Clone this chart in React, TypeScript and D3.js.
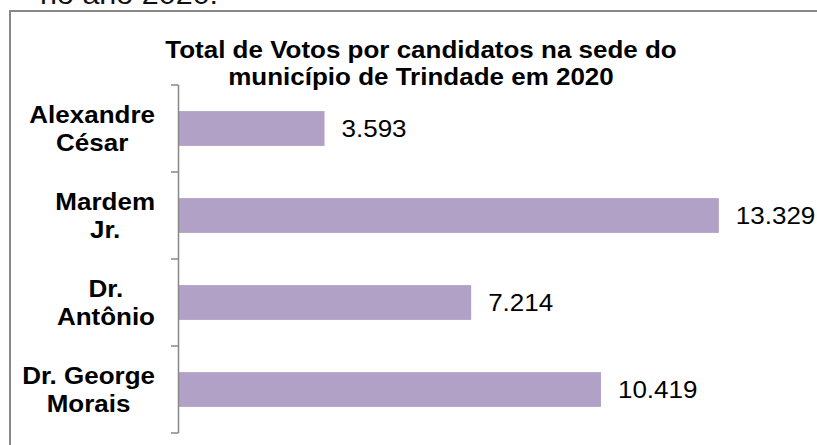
import React, { useEffect, useRef } from "react";
import * as d3 from "d3";

// dados
const candidatos = [
  ["Alexandre", "César"],
  ["Mardem", "Jr."],
  ["Dr.", "Antônio"],
  ["Dr. George", "Morais"],
];
const votos = [3593, 13329, 7214, 10419];
const tituloLinhas = [
  "Total de Votos por candidatos na sede do",
  "município de Trindade em 2020",
];
const textoAcima = "no ano 2020.";

const W = 817;
const H = 445;
const SX = 1.13; // a imagem original está esticada na horizontal
const FONT = "Arial, 'Liberation Sans', sans-serif";

const App = () => {
  const svgRef = useRef<SVGSVGElement>(null);

  useEffect(() => {
    const svg = d3.select(svgRef.current);
    svg.selectAll("*").remove();

    const nomes = candidatos.map((c) => c.join(" "));

    const x = d3.scaleLinear().domain([0, 16000]).range([179, 827]);
    const y = d3
      .scaleBand()
      .domain(nomes)
      .range([85, 433])
      .paddingInner(0.6)
      .paddingOuter(0.3);

    const fmt = d3
      .formatLocale({ decimal: ",", thousands: ".", grouping: [3], currency: ["R$", ""] })
      .format(",d");

    const stretched = (g, px, py) =>
      g.attr("transform", `translate(${px},${py}) scale(${SX},1)`);

    // texto cortado acima do gráfico
    stretched(svg.append("text"), 40, 4)
      .attr("font-family", FONT)
      .attr("font-size", 27)
      .attr("fill", "#111")
      .text(textoAcima);

    // moldura
    svg
      .append("rect")
      .attr("x", 10)
      .attr("y", 11)
      .attr("width", W + 20)
      .attr("height", H + 20)
      .attr("fill", "none")
      .attr("stroke", "#888")
      .attr("stroke-width", 2);

    // título
    tituloLinhas.forEach((t, i) => {
      stretched(svg.append("text"), 421, 58 + i * 27)
        .attr("font-family", FONT)
        .attr("font-size", 23)
        .attr("font-weight", "bold")
        .attr("text-anchor", "middle")
        .attr("fill", "#000")
        .text(t);
    });

    // barras
    svg
      .selectAll(".bar")
      .data(votos)
      .join("rect")
      .attr("class", "bar")
      .attr("x", x(0))
      .attr("y", (d, i) => y(nomes[i]))
      .attr("width", (d) => x(d) - x(0))
      .attr("height", y.bandwidth())
      .attr("fill", "#b2a1c7");

    // eixo vertical com marcas entre categorias
    const axis = svg.append("g").attr("stroke", "#888").attr("stroke-width", 1.5);
    axis
      .append("line")
      .attr("x1", 178.5)
      .attr("x2", 178.5)
      .attr("y1", y.range()[0])
      .attr("y2", y.range()[1]);
    const bordas = d3.range(nomes.length + 1).map((i) => y.range()[0] + i * y.step());
    axis
      .selectAll(".tick")
      .data(bordas)
      .join("line")
      .attr("x1", 171)
      .attr("x2", 178.5)
      .attr("y1", (d) => d)
      .attr("y2", (d) => d);

    // rótulos das categorias
    candidatos.forEach((linhas, i) => {
      const cy = y(nomes[i]) + y.bandwidth() / 2;
      const texts = linhas.map((l, j) =>
        svg
          .append("text")
          .attr("font-family", FONT)
          .attr("font-size", 23)
          .attr("font-weight", "bold")
          .attr("text-anchor", "middle")
          .attr("fill", "#000")
          .text(l)
      );
      const larg = d3.max(texts, (t) => t.node().getComputedTextLength()) * SX;
      const cx = 155 - larg / 2;
      texts.forEach((t, j) => {
        const by = cy - ((linhas.length - 1) * 28) / 2 + j * 28 + 8.2;
        stretched(t, cx, by);
      });
    });

    // rótulos de valores
    votos.forEach((v, i) => {
      const cy = y(nomes[i]) + y.bandwidth() / 2;
      stretched(svg.append("text"), x(v) + 17, cy + 8.2)
        .attr("font-family", FONT)
        .attr("font-size", 23)
        .attr("fill", "#000")
        .text(fmt(v));
    });
  }, []);

  return (
    <svg
      ref={svgRef}
      width={W}
      height={H}
      style={{ position: "absolute", left: 0, top: 0, background: "#fff" }}
    />
  );
};

export default App;
